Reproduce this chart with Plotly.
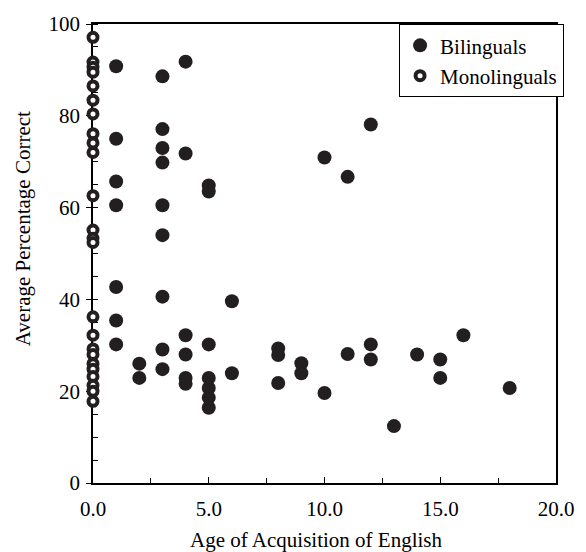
import plotly.graph_objects as go

# Monolinguals: all at age 0
mono_x = [0] * 24
mono_y = [97.1, 91.7, 90.6, 89.5, 86.5, 83.4, 80.4, 76.1, 74.1, 72.0, 62.6,
          55.1, 53.3, 52.4, 36.2, 32.2, 29.2, 28.0, 26.0, 24.8, 23.2, 21.3,
          20.0, 17.8]

# Bilinguals
bil_x = [1, 1, 1, 1, 1, 1, 1,
         2, 2,
         3, 3, 3, 3, 3, 3, 3, 3, 3,
         4, 4, 4, 4, 4, 4,
         5, 5, 5, 5, 5, 5, 5,
         6, 6,
         8, 8, 8,
         9, 9,
         10, 10,
         11, 11,
         12, 12, 12,
         13,
         14,
         15, 15,
         16,
         18]
bil_y = [90.8, 75.0, 65.7, 60.5, 42.7, 35.4, 30.2,
         26.0, 22.9,
         88.6, 77.1, 73.0, 69.8, 60.5, 54.0, 40.6, 29.1, 24.8,
         91.8, 71.8, 32.2, 28.0, 22.9, 21.6,
         64.8, 63.5, 30.2, 22.9, 20.7, 18.6, 16.4,
         39.6, 23.9,
         29.3, 27.9, 21.8,
         26.1, 23.9,
         70.9, 19.6,
         66.7, 28.1,
         78.1, 30.2, 26.9,
         12.4,
         28.0,
         26.9, 22.9,
         32.2,
         20.7]

x_ticks = [0, 5, 10, 15, 20]
x_labels = ["0.0", "5.0", "10.0", "15.0", "20.0"]
y_ticks = [0, 20, 40, 60, 80, 100]

FONT = "Liberation Serif, Times New Roman, serif"
INK = "#231f20"

fig = go.Figure()
fig.add_trace(go.Scatter(
    x=bil_x, y=bil_y, mode="markers", name="Bilinguals",
    marker=dict(symbol="circle", size=14, color=INK, line=dict(width=0)),
    cliponaxis=False,
))
fig.add_trace(go.Scatter(
    x=mono_x, y=mono_y, mode="markers", name="Monolinguals",
    marker=dict(symbol="circle", size=9, color="white",
                line=dict(width=4, color=INK)),
    cliponaxis=False,
))

fig.update_layout(
    width=586, height=552,
    margin=dict(l=93, r=22, t=18, b=69),
    paper_bgcolor="white", plot_bgcolor="white",
    font=dict(family=FONT, size=21, color="black"),
    showlegend=True,
    legend=dict(x=1.017, xanchor="right", y=1, yanchor="top",
                bgcolor="white", bordercolor="black", borderwidth=1.2,
                font=dict(family=FONT, size=21, color="black"),
                itemwidth=30, tracegroupgap=4),
    xaxis=dict(range=[0, 20], tickvals=x_ticks, ticktext=x_labels,
               showgrid=False, zeroline=False, showline=True,
               linecolor="black", linewidth=1.5, mirror=True,
               ticks="inside", ticklen=6, tickwidth=1.2, tickcolor="black",
               minor=dict(dtick=2.5, ticks="inside", ticklen=5,
                          tickwidth=1.2, tickcolor="black"),
               tickfont=dict(family=FONT, size=21, color="black"),
               ticklabelstandoff=6,
               layer="below traces"),
    yaxis=dict(range=[0, 100], tickvals=y_ticks,
               showgrid=False, zeroline=False, showline=True,
               linecolor="black", linewidth=1.5, mirror=True,
               ticks="outside", ticklen=5, tickwidth=1.2, tickcolor="black",
               minor=dict(dtick=5, ticks="inside", ticklen=5,
                          tickwidth=1.2, tickcolor="black"),
               tickfont=dict(family=FONT, size=21, color="black"),
               ticklabelstandoff=2,
               layer="below traces"),
    annotations=[
        dict(text="Age of Acquisition of English", xref="paper", yref="paper",
             x=0.482, y=-0.125, xanchor="center", yanchor="middle",
             showarrow=False, font=dict(family=FONT, size=21, color="black")),
        dict(text="Average Percentage Correct", xref="paper", yref="paper",
             x=-0.151, y=0.553, xanchor="center", yanchor="middle",
             textangle=-90, showarrow=False,
             font=dict(family=FONT, size=21, color="black")),
    ],
)

fig.write_html("out.html")
